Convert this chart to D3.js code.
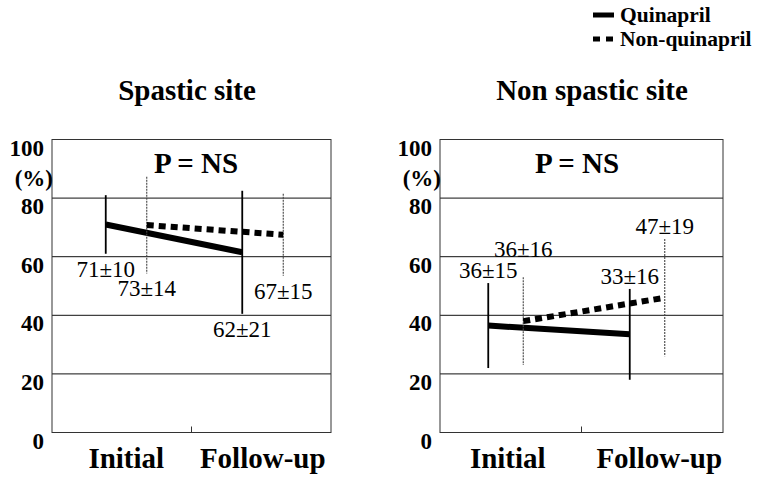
<!DOCTYPE html>
<html>
<head>
<meta charset="utf-8">
<script src="https://cdn.jsdelivr.net/npm/d3@7"></script>
</head>
<body style="margin:0; background:#fff">
<div id="chart"></div>
<script>
// values (mean, SD and the printed label)
const groups = ["Initial", "Follow-up"];
const seriesNames = ["Quinapril", "Non-quinapril"];
const panelTitles = ["Spastic site", "Non spastic site"];
const yTicks = [0, 20, 40, 60, 80, 100];
const pText = ["P = NS", "P = NS"];

const spasticQuinMean = [71, 61.5];
const spasticQuinSd = [10, 21];
const spasticQuinLabel = ["71±10", "62±21"];
const spasticNonMean = [70.8, 67.5];
const spasticNonSd = [16.5, 14];
const spasticNonLabel = ["73±14", "67±15"];

const nonSpasticQuinMean = [36.5, 33.5];
const nonSpasticQuinSd = [14.5, 15.5];
const nonSpasticQuinLabel = ["36±15", "33±16"];
const nonSpasticNonMean = [38, 46];
const nonSpasticNonSd = [15, 20];
const nonSpasticNonLabel = ["36±16", "47±19"];

const FONT = "Liberation Serif";

// every text gets its font directly
function addText(parent, x, y, size, bold, anchor, str) {
    return parent.append("text")
        .attr("x", x)
        .attr("y", y)
        .attr("text-anchor", anchor)
        .attr("font-family", FONT)
        .attr("font-size", size)
        .attr("font-weight", bold ? "bold" : "normal")
        .text(str);
}

function main() {
    let width = 781;
    let height = 485;

    let svg = d3.select("#chart").append("svg")
        .attr("width", width)
        .attr("height", height);

    // layout of the two panels
    let panels = [
        {
            title: panelTitles[0], titleX: 187, p: pText[0], pX: 196,
            box: [52, 331], xRange: [58, 331], offset: 20.5, labelDx: [0, 0],
            place: "below",
            series: [
                {mean: spasticQuinMean, sd: spasticQuinSd, label: spasticQuinLabel},
                {mean: spasticNonMean, sd: spasticNonSd, label: spasticNonLabel}
            ]
        },
        {
            title: panelTitles[1], titleX: 592, p: pText[1], pX: 577,
            box: [440, 723], xRange: [435, 718], offset: 17.5, labelDx: [2, 12],
            place: "above",
            series: [
                {mean: nonSpasticQuinMean, sd: nonSpasticQuinSd, label: nonSpasticQuinLabel},
                {mean: nonSpasticNonMean, sd: nonSpasticNonSd, label: nonSpasticNonLabel}
            ]
        }
    ];

    let top = 139.5;
    let bottom = 432.5;
    let yScale = d3.scaleLinear().domain([0, 100]).range([bottom, top]);

    panels.forEach(function(p) {
        let g = svg.append("g");

        let xScale = d3.scalePoint().domain(groups).range(p.xRange).padding(0.5);
        let sScale = d3.scalePoint().domain(seriesNames).range([-p.offset, p.offset]);

        // gridlines
        g.selectAll(".grid")
            .data(yTicks.filter(function(d) { return d > 0 && d < 100; }))
            .enter()
            .append("line")
            .attr("x1", p.box[0])
            .attr("x2", p.box[1])
            .attr("y1", function(d) { return yScale(d); })
            .attr("y2", function(d) { return yScale(d); })
            .attr("stroke", "#111")
            .attr("stroke-width", 1);

        // frame
        g.append("rect")
            .attr("x", p.box[0])
            .attr("y", top)
            .attr("width", p.box[1] - p.box[0])
            .attr("height", bottom - top)
            .attr("fill", "none")
            .attr("stroke", "#333")
            .attr("stroke-width", 1);

        // small centre tick on the bottom edge
        let mid = (p.box[0] + p.box[1]) / 2;
        g.append("line")
            .attr("x1", mid).attr("x2", mid)
            .attr("y1", bottom).attr("y2", bottom - 6)
            .attr("stroke", "#333");

        // y axis labels
        let yAxis = g.append("g")
            .attr("transform", "translate(" + p.box[0] + ",0)")
            .call(d3.axisLeft(yScale).tickValues(yTicks).tickSize(0).tickPadding(8));
        yAxis.select(".domain").remove();
        yAxis.selectAll("text")
            .attr("dy", "0.68em")
            .attr("font-family", FONT)
            .attr("font-size", 23)
            .attr("font-weight", "bold")
            .attr("fill", "#000");

        addText(svg, p.titleX, 100, 29, true, "middle", p.title);
        addText(svg, p.box[0] + 1, 186, 23, true, "end", "(%)");
        addText(svg, p.pX, top + 33, 29, true, "middle", p.p);

        groups.forEach(function(d, i) {
            addText(svg, xScale(d) + p.labelDx[i], 468, 29, true, "middle", d);
        });

        p.series.forEach(function(s, si) {
            let name = seriesNames[si];
            let pts = groups.map(function(gr, i) {
                return {x: xScale(gr) + sScale(name), m: s.mean[i], sd: s.sd[i], label: s.label[i]};
            });

            // error bars
            g.selectAll(".err" + si)
                .data(pts)
                .enter()
                .append("line")
                .attr("x1", function(d) { return d.x; })
                .attr("x2", function(d) { return d.x; })
                .attr("y1", function(d) { return yScale(d.m + d.sd); })
                .attr("y2", function(d) { return yScale(d.m - d.sd); })
                .attr("stroke", si == 0 ? "#000" : "#444")
                .attr("stroke-width", si == 0 ? 1.8 : 1.1)
                .attr("stroke-dasharray", si == 0 ? null : "2,1");

            // mean line
            g.append("path")
                .datum(pts)
                .attr("d", d3.line()
                    .x(function(d) { return d.x; })
                    .y(function(d) { return yScale(d.m); }))
                .attr("fill", "none")
                .attr("stroke", "#000")
                .attr("stroke-width", 6)
                .attr("stroke-dasharray", si == 0 ? null : "7,5");

            // value labels
            pts.forEach(function(d, i) {
                let y;
                if (p.place == "below") {
                    y = yScale(d.m - d.sd) + 23;
                } else {
                    y = yScale(d.m + d.sd) - 5 - ((si == 1 && i == 0) ? 15 : 0);
                }
                addText(svg, d.x, y, 23, false, "middle", d.label);
            });
        });
    });

    // legend
    seriesNames.forEach(function(name, i) {
        svg.append("line")
            .attr("x1", 593).attr("x2", 614)
            .attr("y1", 15 + i * 24).attr("y2", 15 + i * 24)
            .attr("stroke", "#000")
            .attr("stroke-width", 5)
            .attr("stroke-dasharray", i == 0 ? null : "7,6");
        addText(svg, 620, 22 + i * 24, 21.5, true, "start", name);
    });
}

main();
</script>
</body>
</html>
